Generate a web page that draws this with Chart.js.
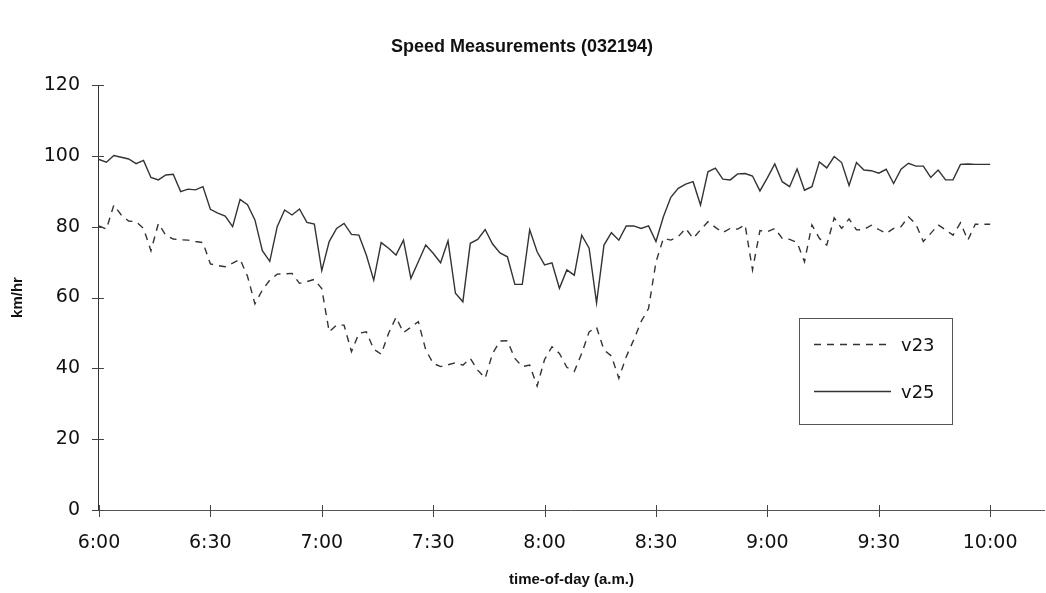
<!DOCTYPE html>
<html>
<head>
<meta charset="utf-8">
<title>Speed Measurements (032194)</title>
<script src="https://cdn.jsdelivr.net/npm/chart.js@4.4.1/dist/chart.umd.min.js"></script>
<style>
  html, body { margin: 0; padding: 0; background: #fff; }
  #wrap { position: relative; width: 1046px; height: 593px; }
</style>
</head>
<body>
<div id="wrap"><canvas id="speedChart"></canvas></div>
<script>
// one reading every 2 minutes, starting at 6:00
const sampleStep = 2;

const v23 = [
    80.2, 79.3, 86.1, 83.3, 81.6, 81.4, 79.5, 73.2, 80.9, 77.6,
    76.5, 76.3, 76.2, 75.8, 75.5, 69.5, 69.0, 68.7, 69.7, 70.8,
    66.0, 58.2, 62.1, 64.9, 66.6, 66.7, 66.8, 64.0, 64.5, 65.1,
    62.5, 50.3, 52.2, 52.2, 44.7, 49.9, 50.3, 45.4, 44.0, 49.9,
    54.4, 50.1, 51.6, 53.2, 45.2, 41.4, 40.5, 41.0, 41.6, 40.9,
    42.8, 39.5, 37.2, 44.2, 47.7, 47.8, 42.8, 40.5, 40.9, 35.0,
    42.5, 46.1, 44.2, 40.3, 39.1, 44.2, 50.3, 51.6, 45.2, 43.5,
    37.2, 43.3, 48.0, 53.2, 56.9, 70.0, 76.7, 76.2, 77.2, 79.5,
    76.7, 79.1, 81.4, 79.8, 78.3, 79.5, 79.3, 80.5, 67.8, 78.9,
    78.6, 79.5, 76.7, 76.4, 75.5, 70.1, 80.5, 76.7, 74.8, 82.5,
    79.5, 82.2, 79.1, 79.2, 80.4, 79.2, 78.1, 79.5, 80.0, 82.8,
    80.7, 75.8, 78.1, 80.5, 79.1, 77.6, 81.1, 76.2, 80.7, 80.7,
    80.7
];

const v25 = [
    99.0, 98.2, 100.1, 99.6, 99.1, 97.8, 98.7, 93.9, 93.2, 94.6,
    94.8, 89.9, 90.6, 90.4, 91.3, 84.9, 83.8, 83.0, 80.0, 87.7,
    86.2, 81.9, 73.2, 70.2, 80.0, 84.7, 83.3, 85.0, 81.2, 80.7,
    67.6, 75.8, 79.5, 80.9, 77.8, 77.6, 72.0, 64.9, 75.5, 73.9,
    72.0, 76.2, 65.4, 70.1, 74.8, 72.5, 69.8, 76.0, 61.2, 58.8,
    75.3, 76.4, 79.2, 75.1, 72.6, 71.5, 63.7, 63.7, 79.1, 72.9,
    69.2, 69.8, 62.6, 67.8, 66.3, 77.6, 73.9, 58.5, 74.8, 78.3,
    76.2, 80.2, 80.2, 79.5, 80.2, 75.8, 82.8, 88.3, 90.8, 92.0,
    92.7, 86.1, 95.5, 96.5, 93.4, 93.2, 94.9, 95.0, 94.3, 90.1,
    93.8, 97.7, 92.7, 91.3, 96.3, 90.3, 91.3, 98.3, 96.6, 99.8,
    98.1, 91.6, 98.1, 96.0, 95.8, 95.1, 96.2, 92.2, 96.2, 97.9,
    97.1, 97.1, 93.9, 96.0, 93.2, 93.2, 97.6, 97.7, 97.6, 97.6,
    97.6
];

// minutes after 6:00 and the labels shown under them
const tickMinutes = [0, 30, 60, 90, 120, 150, 180, 210, 240];
const tickLabels = ["6:00", "6:30", "7:00", "7:30", "8:00", "8:30", "9:00", "9:30", "10:00"];
const speedTicks = [0, 20, 40, 60, 80, 100, 120];

const lineColor = "#333";

// small ticks that cross the axis lines
const crossTicks = {
    id: "crossTicks",
    afterDraw(chart) {
        const ctx = chart.ctx;
        const xs = chart.scales.x;
        const ys = chart.scales.y;
        ctx.save();
        ctx.strokeStyle = "#444";
        ctx.lineWidth = 1;
        ctx.beginPath();
        tickMinutes.forEach(m => {
            const px = Math.round(xs.getPixelForValue(m)) + 0.5;
            ctx.moveTo(px, ys.bottom - 5);
            ctx.lineTo(px, ys.bottom + 7);
        });
        speedTicks.forEach(v => {
            const py = Math.round(ys.getPixelForValue(v)) + 0.5;
            ctx.moveTo(xs.left - 7, py);
            ctx.lineTo(xs.left + 5, py);
        });
        ctx.stroke();
        ctx.restore();
    }
};

// boxed legend inside the plot
const boxLegend = {
    id: "boxLegend",
    afterDraw(chart) {
        const ctx = chart.ctx;
        const rows = [344.5, 391.5];
        ctx.save();
        ctx.strokeStyle = "#555";
        ctx.lineWidth = 1;
        ctx.strokeRect(799.5, 318.5, 153, 106);
        chart.data.datasets.forEach((ds, i) => {
            ctx.strokeStyle = ds.borderColor;
            ctx.lineWidth = ds.borderWidth;
            ctx.setLineDash(ds.borderDash || []);
            ctx.beginPath();
            ctx.moveTo(814, rows[i]);
            ctx.lineTo(891, rows[i]);
            ctx.stroke();
            ctx.setLineDash([]);
            ctx.fillStyle = "#111";
            ctx.font = "18px 'DejaVu Sans'";
            ctx.textBaseline = "middle";
            ctx.fillText(ds.label, 901, rows[i] + 2);
        });
        ctx.restore();
    }
};

new Chart(document.getElementById("speedChart"), {
    type: "line",
    data: {
        datasets: [
            {
                label: "v23",
                data: v23.map((v, i) => ({ x: i * sampleStep, y: v })),
                borderColor: lineColor,
                borderWidth: 1.4,
                borderDash: [7, 6],
                pointRadius: 0,
                tension: 0,
                fill: false
            },
            {
                label: "v25",
                data: v25.map((v, i) => ({ x: i * sampleStep, y: v })),
                borderColor: lineColor,
                borderWidth: 1.4,
                pointRadius: 0,
                tension: 0,
                fill: false
            }
        ]
    },
    options: {
        responsive: true,
        maintainAspectRatio: false,
        animation: false,
        layout: { padding: { left: 0, right: 2, top: 0, bottom: 0 } },
        plugins: {
            legend: { display: false },
            tooltip: { enabled: false },
            title: {
                display: true,
                text: "Speed Measurements (032194)",
                color: "#111",
                font: { family: "'Liberation Sans', Arial, sans-serif", size: 18, weight: "bold" },
                padding: { top: 36, bottom: 27.4 }
            }
        },
        scales: {
            x: {
                type: "linear",
                min: 0,
                max: 254.5,
                afterBuildTicks: scale => {
                    scale.ticks = tickMinutes.map(m => ({ value: m }));
                },
                ticks: {
                    autoSkip: false,
                    maxRotation: 0,
                    padding: 21.6,
                    color: "#111",
                    font: { family: "'DejaVu Sans', sans-serif", size: 19 },
                    callback: value => tickLabels[tickMinutes.indexOf(value)] || ""
                },
                grid: { drawOnChartArea: false, drawTicks: false },
                border: { display: true, color: "#555", width: 1 },
                title: {
                    display: true,
                    text: "time-of-day (a.m.)",
                    color: "#111",
                    font: { family: "'Liberation Sans', Arial, sans-serif", size: 15, weight: "bold" },
                    padding: { top: -5, bottom: 4 }
                }
            },
            y: {
                min: 0,
                max: 120,
                afterBuildTicks: scale => {
                    scale.ticks = speedTicks.map(v => ({ value: v }));
                },
                ticks: {
                    padding: 19,
                    color: "#111",
                    font: { family: "'DejaVu Sans', sans-serif", size: 19 }
                },
                grid: { drawOnChartArea: false, drawTicks: false },
                border: { display: true, color: "#333", width: 1 },
                title: {
                    display: true,
                    text: "km/hr",
                    color: "#111",
                    font: { family: "'Liberation Sans', Arial, sans-serif", size: 15, weight: "bold" },
                    padding: { top: 9, bottom: -2.3 }
                }
            }
        }
    },
    plugins: [crossTicks, boxLegend]
});
</script>
</body>
</html>
